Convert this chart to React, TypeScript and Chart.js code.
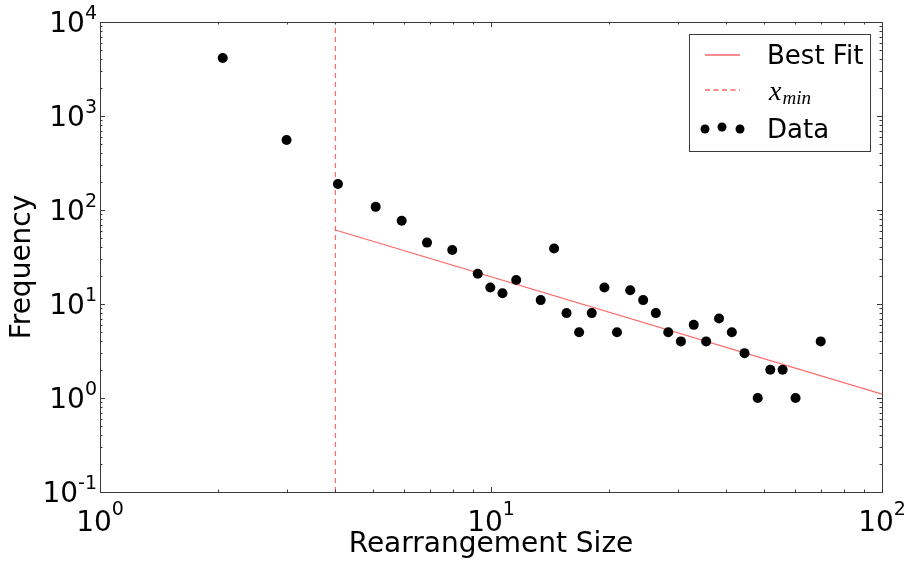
import React, { useEffect, useRef } from "react";
import { Chart, registerables } from "chart.js";

Chart.register(...registerables);

// ---- data ----
const sizes = [2.06, 3.0, 4.06, 5.07, 5.91, 6.86, 7.96, 9.25, 9.96, 10.7, 11.6, 13.4, 14.5, 15.6, 16.8, 18.1, 19.5, 21.0, 22.7, 24.5, 26.4, 28.4, 30.6, 33.0, 35.5, 38.3, 41.3, 44.5, 48.1, 51.8, 55.7, 60.1, 69.7];
const freqs = [4140, 556, 189, 108, 77, 45, 37.5, 21, 15, 13, 18, 11, 39, 8, 5, 8, 15, 5, 14, 11, 8, 5, 4, 6, 4, 7, 5, 3, 1, 2, 2, 1, 4];
const fitX = [4, 100];
const fitY = [61.3, 1.1];
const xMinValue = 4;
const xTickValues = [1, 10, 100];
const xTickExps = ["0", "1", "2"];
const yTickValues = [0.1, 1, 10, 100, 1000, 10000];
const yTickExps = ["-1", "0", "1", "2", "3", "4"];
const xRange = [1, 100];
const yRange = [0.1, 10000];

const FONT = "'DejaVu Sans', sans-serif";
const RED = "rgba(255,0,0,0.6)";
const FRAME = "#3a3a3a";

const decorPlugin = {
  id: "decor",
  afterDatasetsDraw(chart: any) {
    const ctx = chart.ctx as CanvasRenderingContext2D;
    const { left, right, top, bottom } = chart.chartArea;
    const xs = chart.scales.x;
    const ys = chart.scales.y;
    ctx.save();
    // frame
    ctx.strokeStyle = FRAME;
    ctx.lineWidth = 1;
    ctx.strokeRect(Math.round(left) + 0.5, Math.round(top) + 0.5, Math.round(right - left), Math.round(bottom - top));
    // ticks
    const major = 5, minor = 2.5;
    ctx.beginPath();
    for (let d = xRange[0]; d <= xRange[1]; d *= 10) {
      for (let m = 1; m <= 9; m++) {
        const v = d * m;
        if (v > xRange[1] * 1.0001) break;
        const px = Math.round(xs.getPixelForValue(v)) + 0.5;
        const len = m === 1 ? major : minor;
        ctx.moveTo(px, bottom); ctx.lineTo(px, bottom - len);
        ctx.moveTo(px, top); ctx.lineTo(px, top + len);
      }
    }
    for (let d = yRange[0]; d <= yRange[1] * 1.0001; d *= 10) {
      for (let m = 1; m <= 9; m++) {
        const v = d * m;
        if (v > yRange[1] * 1.0001) break;
        const py = Math.round(ys.getPixelForValue(v)) + 0.5;
        const len = m === 1 ? major : minor;
        ctx.moveTo(left, py); ctx.lineTo(left + len, py);
        ctx.moveTo(right, py); ctx.lineTo(right - len, py);
      }
    }
    ctx.stroke();

    // tick labels
    ctx.fillStyle = "#000";
    const big = `28px ${FONT}`;
    const small = `19px ${FONT}`;
    ctx.textBaseline = "alphabetic";
    yTickValues.forEach((v, i) => {
      const py = ys.getPixelForValue(v);
      ctx.font = small;
      const sw = ctx.measureText(yTickExps[i]).width;
      const rx = left - 3;
      ctx.textAlign = "right";
      ctx.fillText(yTickExps[i], rx, py - 3);
      ctx.font = big;
      ctx.fillText("10", rx - sw, py + 10);
    });
    xTickValues.forEach((v, i) => {
      const px = xs.getPixelForValue(v);
      ctx.font = small;
      const sw = ctx.measureText(xTickExps[i]).width;
      ctx.font = big;
      const bw = ctx.measureText("10").width;
      const x0 = px - (sw + bw) / 2;
      ctx.textAlign = "left";
      ctx.fillText("10", x0, bottom + 39);
      ctx.font = small;
      ctx.fillText(xTickExps[i], x0 + bw, bottom + 23);
    });

    // axis titles
    ctx.font = `28px ${FONT}`;
    ctx.textAlign = "center";
    ctx.fillText("Rearrangement Size", (left + right) / 2, 552);
    ctx.save();
    ctx.translate(30, (top + bottom) / 2 + 10);
    ctx.rotate(-Math.PI / 2);
    ctx.fillText("Frequency", 0, 0);
    ctx.restore();

    // legend
    const lx = 689.5, ly = 34.5, lw = 181, lh = 117;
    ctx.fillStyle = "#fff";
    ctx.fillRect(lx, ly, lw, lh);
    ctx.strokeStyle = FRAME;
    ctx.lineWidth = 1;
    ctx.strokeRect(lx, ly, lw, lh);
    ctx.strokeStyle = RED;
    ctx.lineWidth = 1.5;
    ctx.beginPath();
    ctx.moveTo(705, 55); ctx.lineTo(740, 55);
    ctx.stroke();
    ctx.setLineDash([5, 3.5]);
    ctx.beginPath();
    ctx.moveTo(705, 90); ctx.lineTo(740, 90);
    ctx.stroke();
    ctx.setLineDash([]);
    ctx.fillStyle = "#000";
    [705, 722, 740].forEach((cx, i) => {
      ctx.beginPath();
      ctx.arc(cx, i === 1 ? 127 : 129, 4.5, 0, Math.PI * 2);
      ctx.fill();
    });
    ctx.textAlign = "left";
    ctx.font = `26px ${FONT}`;
    ctx.fillText("Best Fit", 767, 64);
    ctx.fillText("Data", 767, 138);
    ctx.font = `italic 28px 'Liberation Serif', serif`;
    ctx.fillText("x", 769, 100);
    const xw = ctx.measureText("x").width;
    ctx.font = `italic 19px 'Liberation Serif', serif`;
    ctx.fillText("min", 769 + xw + 1, 104);
    ctx.restore();
  },
};

export default function App() {
  const ref = useRef<HTMLCanvasElement | null>(null);
  useEffect(() => {
    document.body.style.margin = "0";
    const canvas = ref.current!;
    const chart = new Chart(canvas, {
      type: "scatter",
      data: {
        datasets: [
          {
            label: "Data",
            data: sizes.map((x, i) => ({ x, y: freqs[i] })),
            pointRadius: 5,
            pointBackgroundColor: "#000",
            pointBorderWidth: 0,
            showLine: false,
            order: 0,
          },
          {
            label: "Best Fit",
            data: fitX.map((x, i) => ({ x, y: fitY[i] })),
            showLine: true,
            borderColor: RED,
            borderWidth: 1.2,
            pointRadius: 0,
            order: 1,
          },
          {
            label: "xmin",
            data: yRange.map((y) => ({ x: xMinValue, y })),
            showLine: true,
            borderColor: RED,
            borderWidth: 1.2,
            borderDash: [5, 4],
            pointRadius: 0,
            order: 2,
          },
        ],
      },
      options: {
        responsive: false,
        devicePixelRatio: 1,
        animation: false,
        layout: { padding: { top: 22, right: 28, left: 0, bottom: 0 } },
        plugins: { legend: { display: false }, tooltip: { enabled: false } },
        scales: {
          x: {
            type: "logarithmic",
            min: xRange[0],
            max: xRange[1],
            ticks: { display: false },
            grid: { display: false },
            border: { display: false },
            afterFit: (s: any) => { s.height = 69; },
          },
          y: {
            type: "logarithmic",
            min: yRange[0],
            max: yRange[1],
            ticks: { display: false },
            grid: { display: false },
            border: { display: false },
            afterFit: (s: any) => { s.width = 100; },
          },
        },
      },
      plugins: [decorPlugin],
    } as any);
    return () => chart.destroy();
  }, []);
  return (
    <div style={{ width: 910, height: 561 }}>
      <canvas ref={ref} width={910} height={561} />
    </div>
  );
}
